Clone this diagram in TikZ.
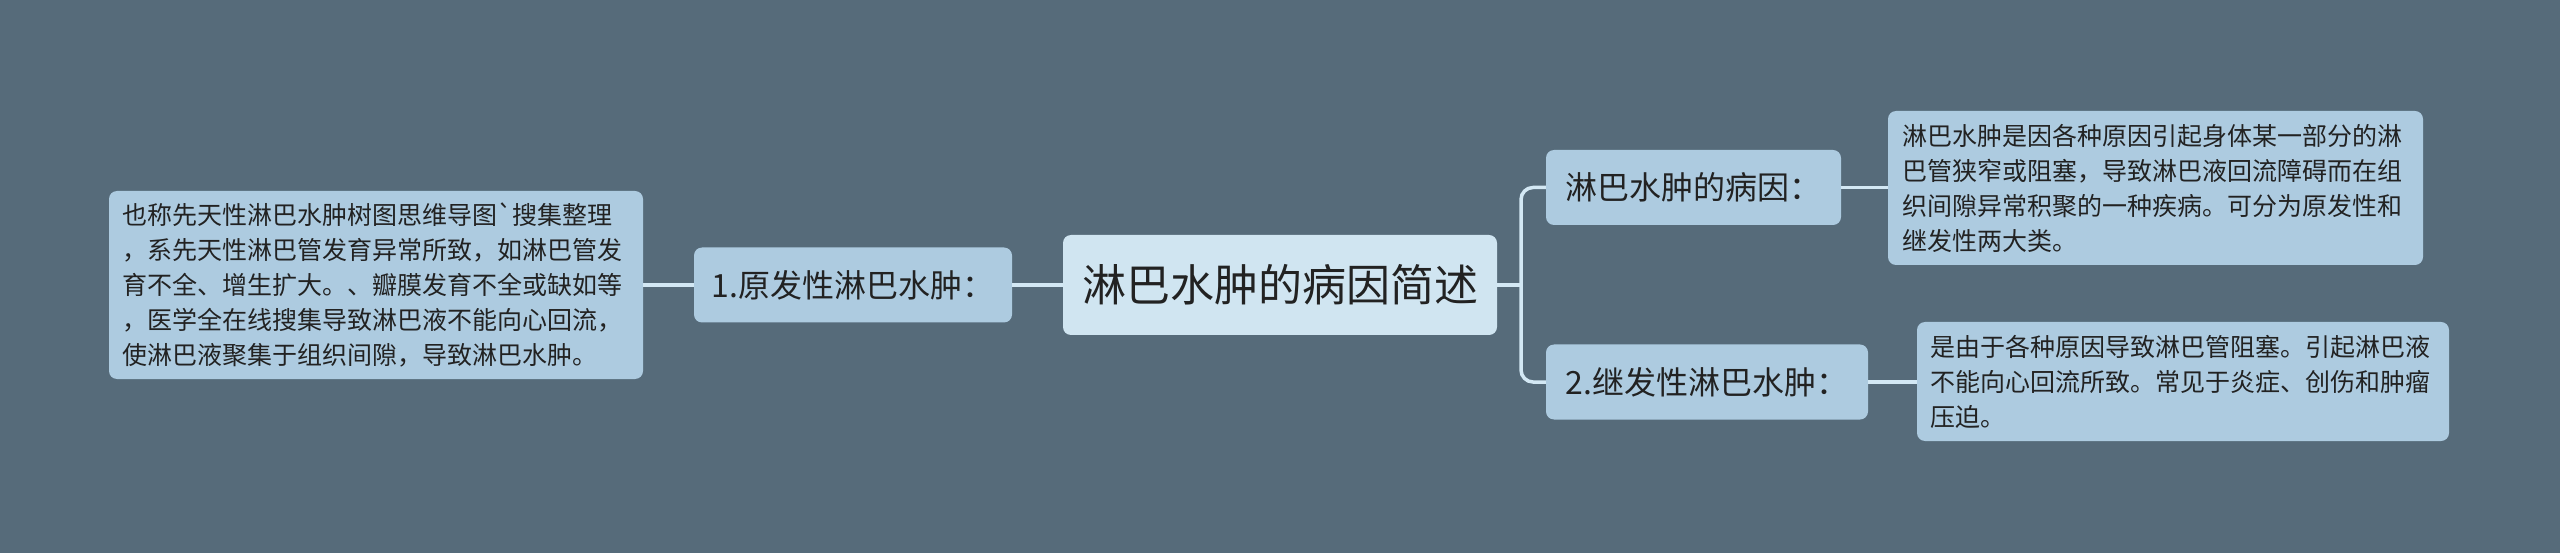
\documentclass[tikz,border=0pt]{standalone}
\usepackage{fontspec}
\newfontfamily\cjk{Noto Sans CJK SC}
\definecolor{bgc}{HTML}{566B7A}
\definecolor{rootfill}{HTML}{D0E5F1}
\definecolor{boxfill}{HTML}{ADCBE0}
\definecolor{linec}{HTML}{D3E8F4}
\definecolor{txt}{HTML}{222222}
\tikzset{
  base/.style={fill=boxfill, rounded corners=8pt, text=txt, inner sep=0pt},
  rootbox/.style={base, fill=rootfill, minimum width=434pt, minimum height=100pt,
    font=\cjk\fontsize{44}{52}\selectfont},
  topicbox/.style={base, minimum height=75pt, font=\cjk\fontsize{32}{38}\selectfont},
  notebox/.style={base, align=left, font=\cjk\fontsize{25}{35}\selectfont},
  conn/.style={draw=linec, line width=3.5pt},
}
\begin{document}
\begin{tikzpicture}[x=1pt,y=-1pt]
\fill[bgc] (0,0) rectangle (2560,553);
\useasboundingbox (0,0) rectangle (2560,553);

\node[rootbox] (root) at (1280,285) {淋巴水肿的病因简述};
\node[topicbox, minimum width=318pt] (p1) at (853,285) {1.原发性淋巴水肿：};
\node[topicbox, minimum width=295pt] (c1) at (1693.5,187.5) {淋巴水肿的病因：};
\node[topicbox, minimum width=322pt] (c2) at (1707,382) {2.继发性淋巴水肿：};

\node[notebox, minimum width=534pt, minimum height=188pt, text width=508pt] (n1) at (376,285)
 {也称先天性淋巴水肿树图思维导图`搜集整理\\，系先天性淋巴管发育异常所致，如淋巴管发\\育不全、增生扩大。、瓣膜发育不全或缺如等\\，医学全在线搜集导致淋巴液不能向心回流，\\使淋巴液聚集于组织间隙，导致淋巴水肿。};
\node[notebox, minimum width=535pt, minimum height=154pt, text width=507pt] (n2) at (2155.5,188)
 {淋巴水肿是因各种原因引起身体某一部分的淋\\巴管狭窄或阻塞，导致淋巴液回流障碍而在组\\织间隙异常积聚的一种疾病。可分为原发性和\\继发性两大类。};
\node[notebox, minimum width=532pt, minimum height=119pt, text width=506pt] (n3) at (2183,381.5)
 {是由于各种原因导致淋巴管阻塞。引起淋巴液\\不能向心回流所致。常见于炎症、创伤和肿瘤\\压迫。};

\coordinate (jr) at (1521,285);
\draw[conn] (root.east) -- (jr);
\draw[conn, rounded corners=12pt] (jr) |- (c1.west);
\draw[conn, rounded corners=12pt] (jr) |- (c2.west);
\draw[conn] (root.west) -- (p1.east);
\draw[conn] (p1.west) -- (n1.east);
\draw[conn] (c1.east) -- (c1.east -| n2.west);
\draw[conn] (c2.east) -- (c2.east -| n3.west);
\end{tikzpicture}
\end{document}
